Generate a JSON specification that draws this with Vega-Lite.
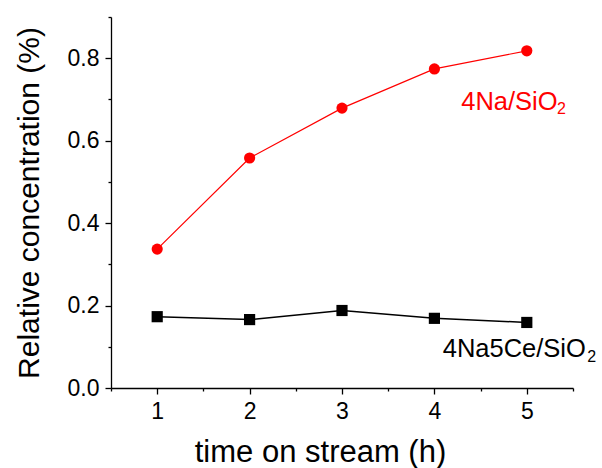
{
  "$schema": "https://vega.github.io/schema/vega-lite/v6.json",
  "width": 462,
  "height": 371,
  "autosize": "none",
  "padding": {"left": 111, "top": 17, "right": 29, "bottom": 80},
  "background": "white",
  "config": {
    "view": {"stroke": null},
    "font": "Liberation Sans",
    "axis": {
      "domainColor": "black",
      "domainWidth": 1.3,
      "tickColor": "black",
      "tickWidth": 1.3,
      "grid": false,
      "labelColor": "black",
      "titleColor": "black",
      "labelFont": "Liberation Sans",
      "titleFont": "Liberation Sans",
      "titleFontWeight": "normal",
      "labelFontSize": 23,
      "titleFontSize": 30
    }
  },
  "datasets": {
    "pts": [
      {"t": 1, "c": 0.337, "s": "4Na/SiO2"},
      {"t": 2, "c": 0.558, "s": "4Na/SiO2"},
      {"t": 3, "c": 0.679, "s": "4Na/SiO2"},
      {"t": 4, "c": 0.774, "s": "4Na/SiO2"},
      {"t": 5, "c": 0.818, "s": "4Na/SiO2"},
      {"t": 1, "c": 0.173, "s": "4Na5Ce/SiO2"},
      {"t": 2, "c": 0.166, "s": "4Na5Ce/SiO2"},
      {"t": 3, "c": 0.188, "s": "4Na5Ce/SiO2"},
      {"t": 4, "c": 0.169, "s": "4Na5Ce/SiO2"},
      {"t": 5, "c": 0.159, "s": "4Na5Ce/SiO2"}
    ],
    "labels": [
      {"t": 4.29, "c": 0.674, "text": "4Na/SiO", "s": "4Na/SiO2"},
      {"t": 4.09, "c": 0.076, "text": "4Na5Ce/SiO", "s": "4Na5Ce/SiO2"}
    ],
    "subs": [
      {"t": 5.327, "c": 0.665, "text": "2", "s": "4Na/SiO2"},
      {"t": 5.655, "c": 0.064, "text": "2", "s": "4Na5Ce/SiO2"}
    ]
  },
  "resolve": {"axis": {"x": "independent", "y": "independent"}},
  "layer": [
    {
      "data": {"name": "pts"},
      "transform": [{"filter": "datum.s === '4Na/SiO2'"}],
      "mark": {"type": "line", "strokeWidth": 1.2},
      "encoding": {
        "x": {"field": "t", "type": "quantitative",
          "scale": {"domain": [0.5, 5.5], "nice": false, "zero": false},
          "axis": {"orient": "bottom", "values": [1, 2, 3, 4, 5], "tickSize": 6, "labelPadding": 6, "title": "time on stream (h)", "titlePadding": 14, "titleX": 209, "titleFontSize": 31, "titleAlign": "center", "labelFlush": false}},
        "y": {"field": "c", "type": "quantitative",
          "scale": {"domain": [0, 0.9], "nice": false},
          "axis": {"orient": "left", "values": [0, 0.2, 0.4, 0.6, 0.8], "format": ".1f", "tickSize": 6, "labelPadding": 6, "title": "Relative concentration (%)", "titlePadding": 23, "labelFlush": false}},
        "color": {"field": "s", "type": "nominal", "scale": {"domain": ["4Na/SiO2", "4Na5Ce/SiO2"], "range": ["#ff0000", "#000000"]}, "legend": null}
      }
    },
    {
      "data": {"name": "pts"},
      "transform": [{"filter": "datum.s === '4Na5Ce/SiO2'"}],
      "mark": {"type": "line", "strokeWidth": 1.5},
      "encoding": {
        "x": {"field": "t", "type": "quantitative",
          "axis": {"orient": "bottom", "values": [0.5, 1.5, 2.5, 3.5, 4.5, 5.5], "tickSize": 3, "labels": false, "domain": false, "title": null}},
        "y": {"field": "c", "type": "quantitative",
          "axis": {"orient": "left", "values": [0.1, 0.3, 0.5, 0.7, 0.9], "tickSize": 3, "labels": false, "domain": false, "title": null}},
        "color": {"field": "s", "type": "nominal", "legend": null}
      }
    },
    {
      "data": {"name": "pts"},
      "mark": {"type": "point", "filled": true, "opacity": 1, "size": 125},
      "encoding": {
        "x": {"field": "t", "type": "quantitative", "axis": null},
        "y": {"field": "c", "type": "quantitative", "axis": null},
        "color": {"field": "s", "type": "nominal", "legend": null},
        "shape": {"field": "s", "type": "nominal", "scale": {"domain": ["4Na/SiO2", "4Na5Ce/SiO2"], "range": ["circle", "square"]}, "legend": null}
      }
    },
    {
      "data": {"name": "labels"},
      "mark": {"type": "text", "align": "left", "baseline": "alphabetic", "fontSize": 25.5, "font": "Liberation Sans"},
      "encoding": {
        "x": {"field": "t", "type": "quantitative", "axis": null},
        "y": {"field": "c", "type": "quantitative", "axis": null},
        "text": {"field": "text"},
        "color": {"field": "s", "type": "nominal", "legend": null}
      }
    },
    {
      "data": {"name": "subs"},
      "mark": {"type": "text", "align": "left", "baseline": "alphabetic", "fontSize": 16, "font": "Liberation Sans"},
      "encoding": {
        "x": {"field": "t", "type": "quantitative", "axis": null},
        "y": {"field": "c", "type": "quantitative", "axis": null},
        "text": {"field": "text"},
        "color": {"field": "s", "type": "nominal", "legend": null}
      }
    }
  ]
}
